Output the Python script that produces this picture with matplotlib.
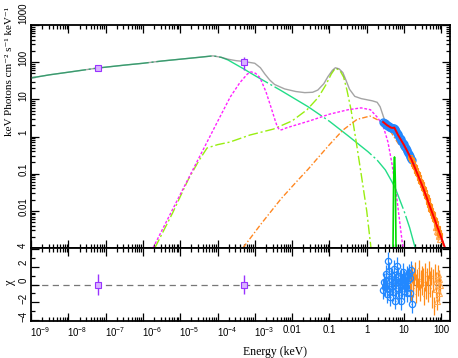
import numpy as np
import matplotlib
matplotlib.use('Agg')
import matplotlib.pyplot as plt
from matplotlib.ticker import FixedLocator, NullFormatter
from matplotlib.transforms import ScaledTranslation

plt.rcParams['font.family'] = ['Liberation Sans', 'DejaVu Sans']
plt.rcParams['mathtext.fontset'] = 'custom'
plt.rcParams['mathtext.rm'] = 'Liberation Sans'
plt.rcParams['mathtext.it'] = 'Liberation Sans:italic'

# ---------------- model curves: log10(E / keV), log10(keV Photons cm^-2 s^-1 keV^-1)
total_logE = [-9, -8.5, -8, -7.23, -6.5, -6, -5.5, -5, -4.5, -4.12, -3.9, -3.72, -3.5, -3.3, -3.0,
              -2.85, -2.73, -2.6, -2.47, -2.2, -1.9, -1.66, -1.45, -1.31, -1.15, -1.04, -0.92,
              -0.84, -0.74, -0.64, -0.55, -0.46, -0.32, -0.15, 0.0, 0.15, 0.28, 0.36, 0.44, 0.5,
              0.6, 0.8, 1.0, 1.2, 1.5, 1.8, 2.1]
total_logF = [1.575, 1.66, 1.73, 1.84, 1.92, 1.97, 2.03, 2.08, 2.13, 2.17, 2.13, 2.08, 2.04, 2.02, 1.97,
              1.85, 1.68, 1.52, 1.40, 1.28, 1.21, 1.18, 1.19, 1.25, 1.42, 1.61, 1.78,
              1.85, 1.82, 1.72, 1.50, 1.27, 1.08, 1.02, 0.99, 0.96, 0.92, 0.80, 0.56, 0.38,
              0.27, 0.13, -0.23, -0.62, -1.35, -2.17, -3.0]

mint_logE = [-9, -8.5, -8, -7.23, -6.5, -6, -5.5, -5, -4.5, -4.12, -3.9, -3.72, -3.3, -3.0, -2.32,
             -1.57, -1.0, -0.5, 0.035, 0.276, 0.5, 0.75, 1.0, 1.15, 1.3]
mint_logF = [1.575, 1.66, 1.73, 1.84, 1.92, 1.97, 2.03, 2.08, 2.13, 2.17, 2.13, 2.06, 1.82, 1.64, 1.25,
             0.80, 0.41, 0.02, -0.41, -0.63, -0.9, -1.35, -2.0, -2.45, -3.0]

lime_logE = [-5.68, -5.2, -4.79, -4.5, -4.28, -4.0, -3.67, -3.13, -2.5, -2.0, -1.6, -1.3, -1.1, -0.95,
             -0.84, -0.72, -0.62, -0.53, -0.42, -0.29, -0.15, 0.0, 0.115]
lime_logF = [-3.0, -2.05, -1.17, -0.65, -0.31, -0.22, -0.15, 0.04, 0.2, 0.42, 0.72, 1.05, 1.38, 1.68,
             1.84, 1.78, 1.6, 1.25, 0.72, -0.09, -1.0, -2.0, -3.0]

magenta_logE = [-5.73, -5.0, -4.5, -4.0, -3.66, -3.4, -3.2, -3.1, -2.98, -2.86, -2.7, -2.57, -2.46,
                -2.40, -2.34, -2.28, -2.16, -1.5, -1.0, -0.5, -0.15, 0.1, 0.3, 0.45, 0.57, 0.68,
                0.8, 0.95, 0.98]
magenta_logF = [-3.0, -1.56, -0.58, 0.4, 1.06, 1.45, 1.68, 1.74, 1.70, 1.58, 1.2, 0.8, 0.45,
                0.27, 0.18, 0.18, 0.23, 0.43, 0.6, 0.72, 0.77, 0.72, 0.5, 0.25, -0.15, -0.75,
                -1.6, -2.83, -3.0]

orange_logE = [-3.32, -2.83, -2.30, -1.84, -1.57, -1.33, -1.0, -0.64, -0.26, 0.09, 0.41, 0.6, 0.8,
               1.0, 1.2, 1.5, 1.8, 2.08]
orange_logF = [-3.0, -2.35, -1.68, -1.17, -0.88, -0.6, -0.22, 0.17, 0.46, 0.55, 0.39, 0.2, -0.12,
               -0.4, -0.72, -1.4, -2.2, -3.0]

line_logE = [0.705, 0.72, 0.735, 0.745, 0.755, 0.77, 0.785]
line_logF = [-3.0, -1.3, -0.7, -0.55, -0.7, -1.3, -3.0]

red_logE = [0.44, 0.55, 0.65, 0.70, 0.74, 0.78, 0.84, 0.9, 1.0, 1.1, 1.2, 1.35, 1.5, 1.6, 1.7,
            1.8, 1.9, 2.0, 2.1]
red_logF = [0.39, 0.30, 0.24, 0.23, 0.24, 0.16, 0.04, -0.06, -0.23, -0.42, -0.62, -0.98, -1.35,
            -1.62, -1.9, -2.17, -2.45, -2.72, -3.0]

# ---------------- data: log10(E/keV), log10(flux), residual chi
blue_logE = [0.45, 0.47, 0.49, 0.51, 0.53, 0.55, 0.57, 0.59, 0.61, 0.63, 0.65, 0.67, 0.69, 0.71,
             0.73, 0.75, 0.77, 0.79, 0.81, 0.83, 0.85, 0.87, 0.89, 0.91, 0.93, 0.95, 0.97, 0.99,
             1.01, 1.03, 1.05, 1.07, 1.09, 1.11, 1.13, 1.15, 1.17, 1.19, 1.21]
blue_logF = [0.38, 0.365, 0.35, 0.34, 0.32, 0.30, 0.29, 0.28, 0.26, 0.25, 0.24, 0.235, 0.23, 0.225,
             0.22, 0.20, 0.17, 0.14, 0.10, 0.07, 0.03, -0.01, -0.04, -0.08, -0.11, -0.14, -0.18,
             -0.21, -0.25, -0.28, -0.32, -0.36, -0.40, -0.44, -0.48, -0.52, -0.56, -0.60, -0.64]
blue_chi = [-0.6, 0.3, -0.3, 1.2, 0.4, -1.1, 2.6, -0.5, 1.5, -1.4, 0.6, -0.2, 0.9, -0.8, 1.7, 0.2,
            -1.8, 0.5, 2.1, -0.4, 1.0, -1.2, 0.3, 0.8, -1.9, 0.1, 1.4, -0.7, 0.6, 0.2, -0.3, 1.1,
            -1.0, 0.5, 1.3, 0.7, -0.9, 1.6, -2.2]

orange_data_logE = [1.17, 1.19, 1.21, 1.23, 1.25, 1.27, 1.29, 1.31, 1.33, 1.35, 1.37, 1.39, 1.41,
                    1.43, 1.45, 1.47, 1.49, 1.51, 1.53, 1.55, 1.57, 1.59, 1.61, 1.63, 1.65, 1.67,
                    1.69, 1.71, 1.73, 1.75, 1.77, 1.79, 1.81, 1.83, 1.85, 1.87, 1.89, 1.91, 1.93,
                    1.95, 1.97]
orange_data_logF = [-0.55, -0.61, -0.63, -0.70, -0.73, -0.80, -0.83, -0.90, -0.93, -0.99, -1.02,
                    -1.09, -1.12, -1.19, -1.22, -1.29, -1.31, -1.39, -1.42, -1.50, -1.53, -1.60,
                    -1.64, -1.71, -1.75, -1.83, -1.86, -1.94, -1.97, -2.06, -2.08, -2.15, -2.22,
                    -2.24, -2.34, -2.35, -2.46, -2.47, -2.56, -2.60, -2.66]
orange_chi = [0.5, -0.8, 1.2, 0.3, -0.4, 0.9, 1.5, -1.1, 0.2, 0.7, -0.3, 1.8, 0.4, -0.9, 0.6, 1.1,
              -0.2, 0.8, -1.3, 0.3, 1.4, -0.6, 0.9, 0.1, -1.0, 1.6, 0.5, -0.4, 1.0, -1.6, 0.7, 0.2,
              -2.4, 1.3, -0.5, 0.4, -1.85, 1.2, -0.9, 0.6, -0.1]

# optical/UV points (keV, flux, flux low, flux high, chi, chi err)
purple_E = [6.2e-8, 5.1e-4]
purple_F = [69.0, 100.0]
purple_Flo = [64.0, 61.0]
purple_Fhi = [74.0, 138.0]
purple_chi = [0.0, 0.0]
purple_chierr = [1.2, 1.1]

x_ticks = [1e-9, 1e-8, 1e-7, 1e-6, 1e-5, 1e-4, 1e-3, 1e-2, 1e-1, 1, 10, 100]
x_labels = ['$10^{-9}$', '$10^{-8}$', '$10^{-7}$', '$10^{-6}$', '$10^{-5}$', '$10^{-4}$',
            '$10^{-3}$', '0.01', '0.1', '1', '10', '100']
y_ticks = [1e-3, 1e-2, 1e-1, 1, 10, 100, 1000]
y_labels = ['', '0.01', '0.1', '1', '10', '100', '1000']
chi_ticks = [-4, -2, 0, 2, 4]
chi_labels = ['\u22124', '\u22122', '0', '2', '4']

# ---------------- figure
W, H = 458, 358
fig = plt.figure(figsize=(W / 100, H / 100), dpi=100)
L, R = 31, 450
ax1 = fig.add_axes([L / W, 1 - 248 / H, (R - L) / W, (248 - 25) / H])
ax2 = fig.add_axes([L / W, 1 - 321 / H, (R - L) / W, (321 - 248) / H])

def p(a):
    return 10 ** np.asarray(a, dtype=float)

c_gray = '#5a5a5a'
c_mint = '#22dd88'
c_lime = '#99ee11'
c_mag = '#ff22ff'
c_orng = '#ff8822'
c_line = '#00dd00'
c_red = '#ff0000'
c_blue = '#2288ff'
c_odat = '#ff8c1a'
c_olt = '#ffaa55'
c_purp = '#9933ff'

ax1.plot(p(mint_logE), p(mint_logF), color=c_mint, lw=1.0, ls=(0, (40, 2, 1.5, 2)), zorder=2)
ax1.plot(p(lime_logE), p(lime_logF), color=c_lime, lw=1.0, ls=(0, (7, 2, 1.5, 2)), zorder=2)
ax1.plot(p(magenta_logE), p(magenta_logF), color=c_mag, lw=1.0, ls=(0, (2, 1.3)), zorder=2)
ax1.plot(p(orange_logE), p(orange_logF), color=c_orng, lw=1.0, ls=(0, (4, 1.5, 1, 1.5)), zorder=2)
ax1.plot(p(line_logE), p(line_logF), color=c_line, lw=1.2, zorder=2)
ax1.plot(p(total_logE), p(total_logF), color=c_gray, lw=1.0, alpha=0.55, zorder=3)

bE = p(blue_logE)
bF = p(blue_logF)
bxe = [bE - bE * 10 ** -0.01, bE * 10 ** 0.01 - bE]
oE = p(orange_data_logE)
oF = p(orange_data_logF)
oxe = [oE - oE * 10 ** -0.01, oE * 10 ** 0.01 - oE]

ax1.errorbar(bE, bF, yerr=bF * 0.10, xerr=bxe, fmt='o', ms=5, mfc='none', mec=c_blue,
             mew=1.0, ecolor=c_blue, elinewidth=1.0, capsize=0, zorder=4)
ax1.errorbar(oE, oF, yerr=oF * 0.2, xerr=oxe, fmt='s', ms=3.5, mfc='none', mec=c_odat, mew=0.8,
             ecolor=c_odat, elinewidth=1.0, capsize=0, zorder=4)
ax1.plot(oE[-7:], oF[-7:] * 0.82, ls='none', marker='^', ms=4.5, mfc='none', mec=c_olt,
         mew=0.9, zorder=4)
ax1.plot(p(red_logE), p(red_logF), color=c_red, lw=1.4, zorder=5)

pE = np.array(purple_E)
pF = np.array(purple_F)
ax1.errorbar(pE, pF, yerr=[pF - np.array(purple_Flo), np.array(purple_Fhi) - pF], fmt='s', ms=4.5,
             mfc='#d9b3ff', mec=c_purp, mew=0.8, ecolor=c_purp, elinewidth=1.0, capsize=0, zorder=6)

# residuals
ax2.axhline(0, color='#777777', lw=0.9, ls=(0, (5, 3.5)), zorder=1)
ax2.errorbar(bE, blue_chi, yerr=1.0, xerr=bxe, fmt='o', ms=4.5, mfc='none', mec=c_blue, mew=0.9,
             ecolor=c_blue, elinewidth=0.9, capsize=0, zorder=3)
ax2.errorbar(oE, orange_chi, yerr=1.0, xerr=oxe, fmt='none', ecolor=c_odat, elinewidth=0.9,
             capsize=0, zorder=3)
ax2.plot(oE[-7:], orange_chi[-7:], ls='none', marker='^', ms=4, mfc='none', mec=c_olt,
         mew=0.8, zorder=3)
ax2.errorbar(pE, purple_chi, yerr=purple_chierr, fmt='s', ms=4.5, mfc='#d9b3ff', mec=c_purp,
             mew=0.8, ecolor=c_purp, elinewidth=1.0, capsize=0, zorder=4)

# axes
xmax = 10 ** 2.233
minor_x = [m * 10.0 ** k for k in range(-9, 3) for m in range(2, 10)]
minor_y = [m * 10.0 ** k for k in range(-3, 3) for m in range(2, 10)]
for ax in (ax1, ax2):
    ax.set_xscale('log')
    ax.set_xlim(1e-9, xmax)
    ax.xaxis.set_major_locator(FixedLocator(x_ticks))
    ax.xaxis.set_minor_locator(FixedLocator(minor_x))
    ax.xaxis.set_minor_formatter(NullFormatter())
    ax.tick_params(which='both', direction='in', top=True, right=True, width=0.9)
    ax.tick_params(which='major', length=5.5)
    ax.tick_params(which='minor', length=2.8)
    for s in ax.spines.values():
        s.set_linewidth(1.3)

ax1.set_yscale('log')
ax1.set_ylim(1e-3, 1e3)
ax1.set_yticks(y_ticks, y_labels)
ax1.yaxis.set_minor_locator(FixedLocator(minor_y))
ax1.yaxis.set_minor_formatter(NullFormatter())
ax1.tick_params(axis='x', labelbottom=False)
ax1.tick_params(axis='y', labelrotation=90, labelsize=7, pad=2)

ax2.set_ylim(-4.1, 4.1)
ax2.set_yticks(chi_ticks, chi_labels)
ax2.yaxis.set_minor_locator(FixedLocator([-3, -1, 1, 3]))
ax2.tick_params(axis='y', labelrotation=90, labelsize=7, pad=2)
ax2.set_xticks(x_ticks, x_labels)
ax2.tick_params(axis='x', labelsize=7, pad=3)

for lab in ax2.get_xticklabels():
    if lab.get_text().startswith('$10'):
        lab.set_ha('left')
        lab.set_transform(lab.get_transform() + ScaledTranslation(-1 / 100, 0, fig.dpi_scale_trans))
for ax in (ax1, ax2):
    for lab in ax.get_yticklabels():
        lab.set_va('center')
        up = 4
        if lab.get_text() == '1000':
            up = 12
        lab.set_transform(lab.get_transform() + ScaledTranslation(0, up / 100, fig.dpi_scale_trans))

serif = ['Liberation Serif', 'DejaVu Serif']
fig.text(10 / W, 1 - 72 / H, 'keV Photons cm\u207b\u00b2 s\u207b\u00b9 keV\u207b\u00b9', rotation=90,
         ha='center', va='center', family=serif, fontsize=8)
fig.text(10 / W, 1 - 282 / H, '\u03c7', rotation=90, ha='center', va='center', family=serif,
         fontsize=9)
fig.text(275 / W, 1 - 352 / H, 'Energy (keV)', ha='center', va='center', family=serif, fontsize=8.5)

fig.savefig('out.png', dpi=100)
